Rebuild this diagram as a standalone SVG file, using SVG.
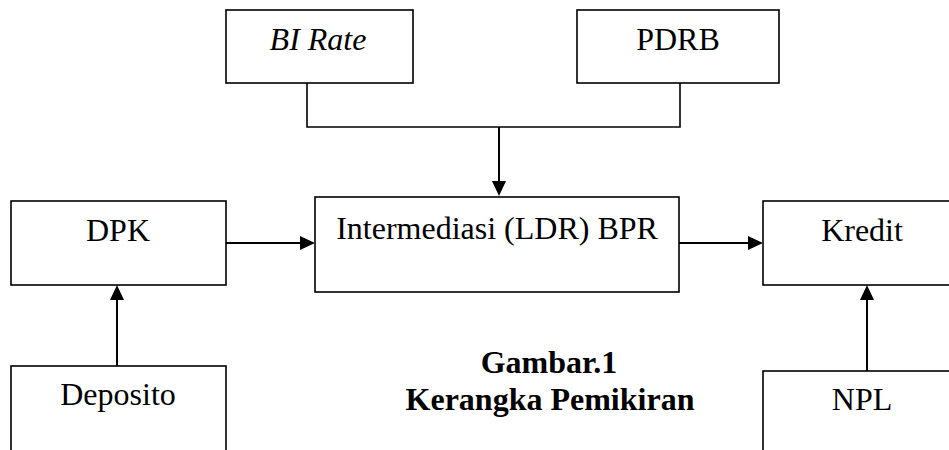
<svg xmlns="http://www.w3.org/2000/svg" width="949" height="450" viewBox="0 0 949 450">
<style>
.box{fill:#fff;stroke:#000;stroke-width:1.6}
.lbl{font-family:"Liberation Serif","Times New Roman",serif;font-size:32px;fill:#000;text-anchor:middle}
.ital{font-style:italic}
.cap{font-family:"Liberation Serif","Times New Roman",serif;font-size:32px;font-weight:bold;fill:#000;text-anchor:middle}
.ln{fill:none;stroke:#000;stroke-width:1.6}
.ar{fill:none;stroke:#000;stroke-width:2}
</style>
<defs>
<marker id="ah" markerUnits="userSpaceOnUse" markerWidth="16" markerHeight="15" refX="0" refY="7" orient="auto">
<path d="M0,0 L15,7 L0,14 z" fill="#000"/>
</marker>
</defs>
<rect width="949" height="450" fill="#fff"/>
<g id="connectors">
<polyline class="ln" points="307,83 307,127 680,127 680,83"/>
<line class="ar" x1="499" y1="127" x2="499" y2="181" marker-end="url(#ah)"/>
<line class="ar" x1="226" y1="243" x2="300" y2="243" marker-end="url(#ah)"/>
<line class="ar" x1="679" y1="243" x2="748" y2="243" marker-end="url(#ah)"/>
<line class="ar" x1="117" y1="366" x2="117" y2="300" marker-end="url(#ah)"/>
<line class="ar" x1="867" y1="371" x2="867" y2="300" marker-end="url(#ah)"/>
</g>
<g id="birate">
<rect class="box" x="226" y="10" width="187" height="73"/>
<text class="lbl ital" x="318" y="50">BI Rate</text>
</g>
<g id="pdrb">
<rect class="box" x="577" y="10" width="202" height="73"/>
<text class="lbl" x="678" y="50">PDRB</text>
</g>
<g id="dpk">
<rect class="box" x="11" y="201" width="215" height="84"/>
<text class="lbl" x="118" y="241">DPK</text>
</g>
<g id="intermediasi">
<rect class="box" x="315" y="197" width="364" height="95"/>
<text class="lbl" x="497" y="239">Intermediasi (LDR) BPR</text>
</g>
<g id="kredit">
<rect class="box" x="763" y="201" width="199" height="84"/>
<text class="lbl" x="862" y="241">Kredit</text>
</g>
<g id="deposito">
<rect class="box" x="11" y="366" width="215" height="100"/>
<text class="lbl" x="118" y="405">Deposito</text>
</g>
<g id="npl">
<rect class="box" x="763" y="371" width="199" height="100"/>
<text class="lbl" x="862" y="410">NPL</text>
</g>
<g id="caption">
<text class="cap" x="549" y="373">Gambar.1</text>
<text class="cap" x="550" y="410">Kerangka Pemikiran</text>
</g>
</svg>
